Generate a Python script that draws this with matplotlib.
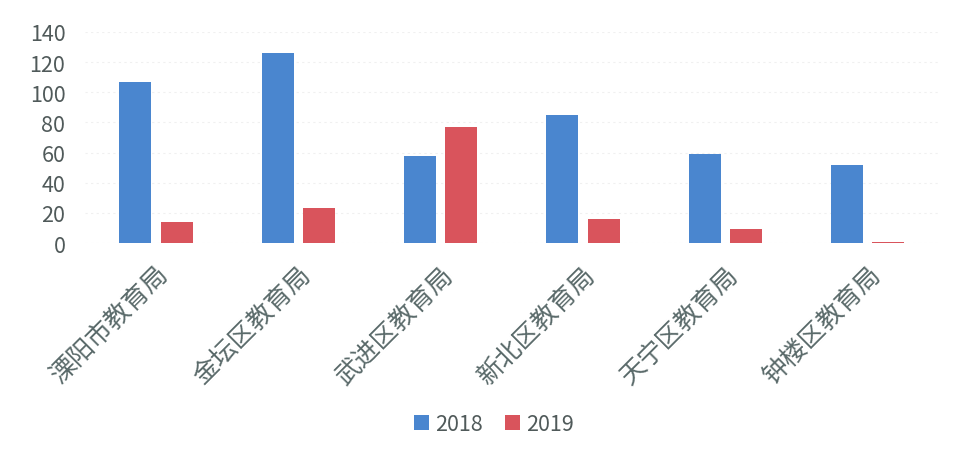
import matplotlib
matplotlib.use("Agg")
import matplotlib.pyplot as plt
import numpy as np

plt.rcParams['font.family'] = ['Noto Sans CJK SC', 'DejaVu Sans']

categories = ["溧阳市教育局", "金坛区教育局", "武进区教育局", "新北区教育局", "天宁区教育局", "钟楼区教育局"]
series_names = ["2018", "2019"]
values_2018 = [107, 126, 58, 85, 59, 52]
values_2019 = [14, 23, 77, 16, 9, 1]
yticks = [0, 20, 40, 60, 80, 100, 120, 140]

fig = plt.figure(figsize=(9.63, 4.64), dpi=100)
ax = fig.add_axes([0.088, 0.474, 0.887, 0.455])

x = np.arange(len(categories))
w = 0.225
off = 0.145
ax.bar(x - off, values_2018, width=w, color="#4a86cf", label=series_names[0], zorder=3)
ax.bar(x + off, values_2019, width=w, color="#d9545c", label=series_names[1], zorder=3)

ax.set_xlim(-0.5, len(categories) - 0.5)
ax.set_ylim(0, 140)
ax.set_yticks(yticks)
ax.set_yticklabels([str(v) for v in yticks], fontsize=15.5, color="#505a5a")
ax.set_xticks(x)
ax.set_xticklabels(categories, rotation=45, ha="right", rotation_mode="anchor",
                   fontsize=18.5, color="#5a6a6a")
ax.tick_params(axis='both', length=0)
ax.tick_params(axis='x', pad=13)
ax.tick_params(axis='y', pad=14)
ax.yaxis.grid(True, color="#f0f0f0", linestyle=(0, (2, 3)), linewidth=0.8, zorder=0)
for s in ax.spines.values():
    s.set_visible(False)

fig.legend(loc="center", bbox_to_anchor=(494 / 963, 1 - 425 / 464), ncol=2, frameon=False,
           fontsize=15.5, handlelength=0.7, handleheight=0.7, handletextpad=0.3,
           columnspacing=1.0, labelcolor="#505a5a")

fig.savefig("out.png", dpi=100, facecolor="white")
